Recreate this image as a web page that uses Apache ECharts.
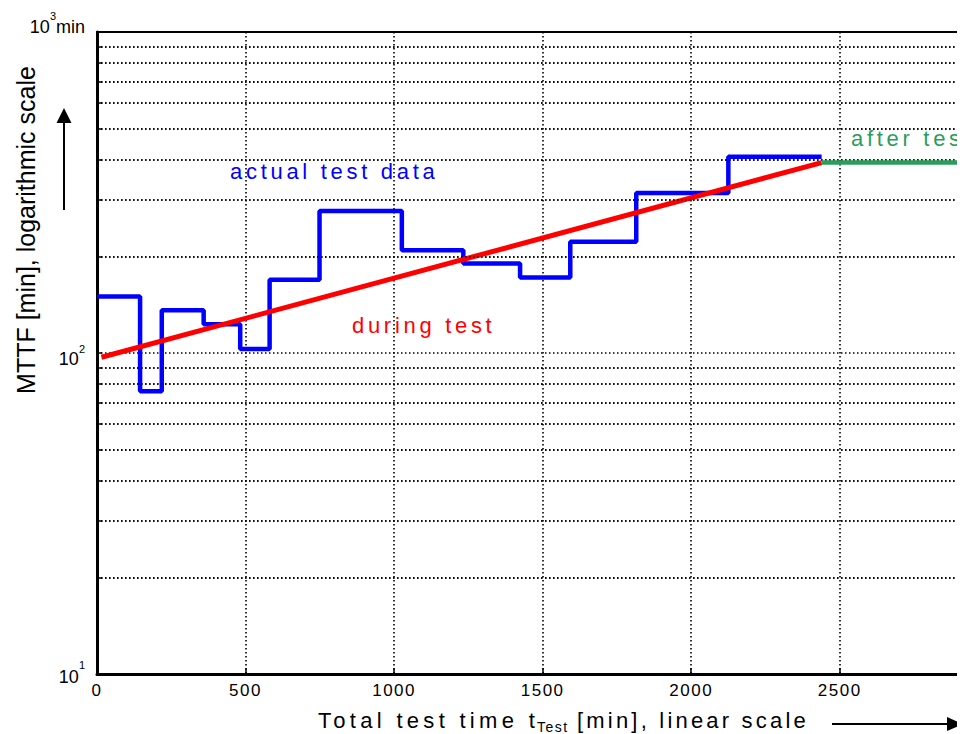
<!DOCTYPE html>
<html><head><meta charset="utf-8">
<script src="https://cdn.jsdelivr.net/npm/echarts@6/dist/echarts.min.js"></script>
<style>
html,body{margin:0;padding:0;background:#fff;}
#wrap{width:957px;height:734px;overflow:hidden;position:relative;}
#chart{width:1000px;height:734px;}
text[style*="spa"]{letter-spacing:3.7px;}
text[style*="spb"]{letter-spacing:1.5px;}
text[style*="spc"]{letter-spacing:4.3px;}
text[style*="spd"]{letter-spacing:3.2px;}
</style></head><body><div id="wrap"><div id="chart"></div></div>
<script>
// ---- data ----
const stepTimes = [0, 145, 218, 359, 482, 581, 749, 1026, 1233, 1424, 1593, 1815, 2125, 2439];
const stepMttf  = [150, 76, 136, 123, 103, 169, 277, 209, 190, 172, 222, 315, 409, 409];
const trendTimes = [15, 2439];
const trendMttf  = [97, 392];
const afterTimes = [2439, 3000];
const afterMttf  = [392, 392];
const xTickLabels = ['0', '500', '1000', '1500', '2000', '2500'];
const yMajor = [10, 100, 1000];
const yMinor = [20, 30, 40, 50, 60, 70, 80, 90, 200, 300, 400, 500, 600, 700, 800, 900];
const yTickValues = yMajor.concat(yMinor).sort((a, b) => a - b);
const xTickInterval = 500;

const FF = 'Liberation Sans';
const dotted = {type: [1.5, 2.5], color: '#000', width: 1.6};
const green = '#2a9d5c';

const chart = echarts.init(document.getElementById('chart'), null, {renderer: 'svg', width: 1000, height: 734});

function pairs(xs, ys) { return xs.map((x, i) => [x, ys[i]]); }

const option = {
  animation: false,
  backgroundColor: '#fff',
  grid: {left: 97, top: 32, right: 11.7, bottom: 60, containLabel: false, outerBoundsMode: 'none',
         show: true, borderColor: '#000', borderWidth: 2, backgroundColor: 'transparent'},
  xAxis: {
    type: 'value', min: 0, max: 3000, interval: xTickInterval,
    axisLine: {show: true, onZero: false, lineStyle: {color: '#000', width: 3}},
    axisTick: {show: true, inside: true, length: 6, lineStyle: {color: '#000', width: 1.5}},
    axisLabel: {color: '#000', fontSize: 17, lineHeight: 17, fontFamily: FF + ', spb', margin: 8,
      showMaxLabel: false,
      formatter: function (v) { const i = Math.round(v / xTickInterval); return xTickLabels[i] || ''; }},
    splitLine: {show: true, lineStyle: dotted}
  },
  yAxis: {
    type: 'log', logBase: 10, min: 10, max: 1000,
    axisLine: {show: true, onZero: false, lineStyle: {color: '#000', width: 3}},
    axisTick: {show: true, inside: true, length: 5, customValues: yTickValues, lineStyle: {color: '#000', width: 1.5}},
    splitLine: {show: true, lineStyle: dotted},
    axisLabel: {
      showMinLabel: true, showMaxLabel: true, margin: 12, color: '#000',
      formatter: function (v) {
        const e = Math.round(Math.log10(v));
        if (e === 3) return '{m3|10}{s3|3}{m3|min}';
        if (e === 2) return '{m2|10}{s2|2}';
        if (e === 1) return '{m1|10}{s1|1}';
        return '';
      },
      rich: {
        m3: {fontSize: 18, lineHeight: 18, fontFamily: FF, color: '#000', verticalAlign: 'bottom', padding: [0, 0, 5.3, 0]},
        s3: {fontSize: 11, lineHeight: 11, fontFamily: FF, color: '#000', verticalAlign: 'bottom', padding: [0, 0, 20, 0]},
        m2: {fontSize: 18, lineHeight: 18, fontFamily: FF, color: '#000', verticalAlign: 'top', padding: [5.8, 0, 0, 0]},
        s2: {fontSize: 11, lineHeight: 11, fontFamily: FF, color: '#000', verticalAlign: 'bottom', padding: [0, 0, 7.3, 0]},
        m1: {fontSize: 18, lineHeight: 18, fontFamily: FF, color: '#000', verticalAlign: 'top', padding: [2.7, 0, 0, 0]},
        s1: {fontSize: 11, lineHeight: 11, fontFamily: FF, color: '#000', verticalAlign: 'bottom', padding: [0, 0, 12.7, 0]}
      }
    }
  },
  series: [
    {
      name: 'grid', type: 'line', data: [], z: 1, silent: true,
      markLine: {
        silent: true, symbol: ['none', 'none'], animation: false,
        label: {show: false}, emphasis: {disabled: true},
        lineStyle: dotted,
        data: yMinor.map(v => ({yAxis: v}))
      }
    },
    {
      name: 'actual test data', type: 'line', step: 'end', z: 3,
      data: pairs(stepTimes, stepMttf),
      showSymbol: false, symbol: 'none',
      lineStyle: {color: '#0000ff', width: 4.5}
    },
    {
      name: 'during test', type: 'line', z: 4,
      data: pairs(trendTimes, trendMttf),
      showSymbol: false, symbol: 'none',
      lineStyle: {color: '#ff0000', width: 5}
    },
    {
      name: 'after test', type: 'line', z: 5,
      data: pairs(afterTimes, afterMttf),
      showSymbol: false, symbol: 'none',
      lineStyle: {color: green, width: 4.5}
    }
  ],
  graphic: [
    {type: 'text', silent: true, x: 230, y: 171.7, style: {text: 'actual test data', fontSize: 22, fontFamily: FF + ', spa', fill: '#0000ff', align: 'left', verticalAlign: 'middle', textAlign: 'left', textVerticalAlign: 'middle'}},
    {type: 'text', silent: true, x: 352, y: 325.4, style: {text: 'during test', fontSize: 22, fontFamily: FF + ', spa', fill: '#ff0000', align: 'left', verticalAlign: 'middle', textAlign: 'left', textVerticalAlign: 'middle'}},
    {type: 'text', silent: true, x: 851, y: 138.1, style: {text: 'after test', fontSize: 22, fontFamily: FF + ', spa', fill: green, align: 'left', verticalAlign: 'middle', textAlign: 'left', textVerticalAlign: 'middle'}},
    {type: 'text', silent: true, x: 318, y: 720.7, style: {text: 'Total test time t', fontSize: 22, fontFamily: FF + ', spc', fill: '#000', align: 'left', verticalAlign: 'middle', textAlign: 'left', textVerticalAlign: 'middle'}},
    {type: 'text', silent: true, x: 537, y: 727, style: {text: 'Test', fontSize: 14, fontFamily: FF + ', spb', fill: '#000', align: 'left', verticalAlign: 'middle', textAlign: 'left', textVerticalAlign: 'middle'}},
    {type: 'text', silent: true, x: 577, y: 720.7, style: {text: '[min], linear scale', fontSize: 22, fontFamily: FF + ', spd', fill: '#000', align: 'left', verticalAlign: 'middle', textAlign: 'left', textVerticalAlign: 'middle'}},
    {type: 'text', silent: true, x: 26.3, y: 230, rotation: Math.PI / 2, style: {text: 'MTTF [min], logarithmic scale', fontSize: 25, fontFamily: FF, fill: '#000', align: 'center', verticalAlign: 'middle', textAlign: 'center', textVerticalAlign: 'middle'}},
    {type: 'line', silent: true, shape: {x1: 64, y1: 210, x2: 64, y2: 120}, style: {stroke: '#000', lineWidth: 2}},
    {type: 'polygon', silent: true, shape: {points: [[56.5, 123], [71.5, 123], [64, 108]]}, style: {fill: '#000'}},
    {type: 'line', silent: true, shape: {x1: 832, y1: 724, x2: 950, y2: 724}, style: {stroke: '#000', lineWidth: 2}},
    {type: 'polygon', silent: true, shape: {points: [[947, 717], [947, 731], [963, 724]]}, style: {fill: '#000'}}
  ]
};
chart.setOption(option);
</script></body></html>
